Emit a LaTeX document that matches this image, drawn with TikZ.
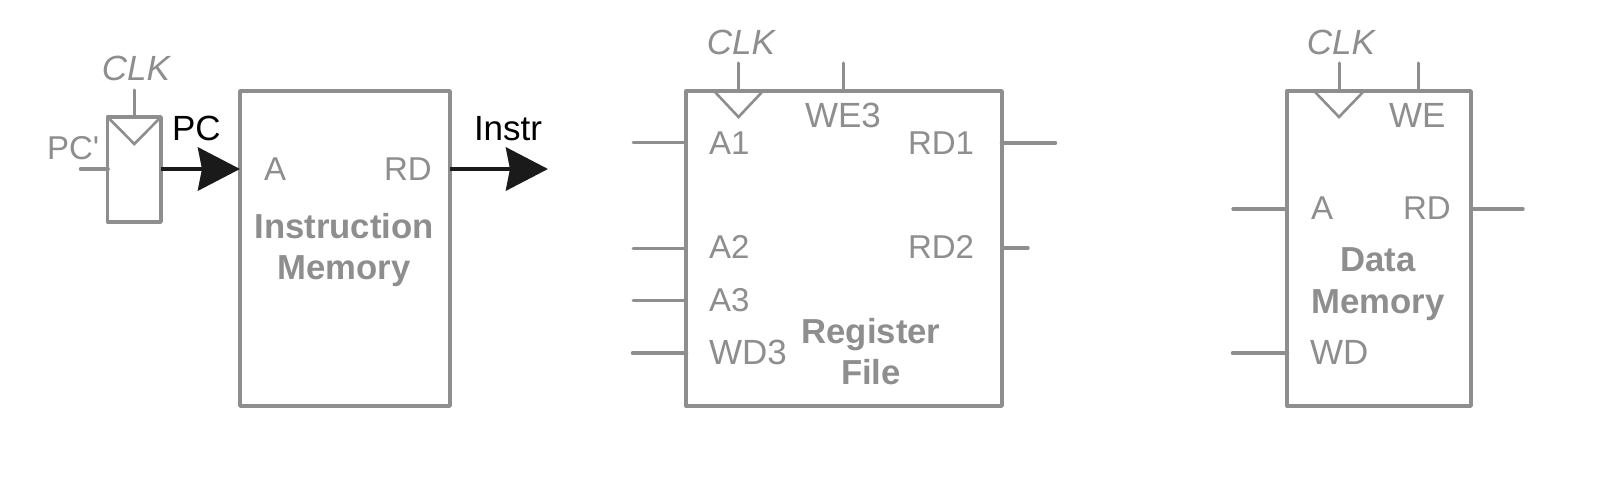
\documentclass[tikz,border=0pt]{standalone}
\usepackage{fontspec}
\setmainfont[Ligatures=TeXOff]{Liberation Sans}
\usetikzlibrary{arrows.meta}
\definecolor{ggray}{HTML}{8E8E8E}
\definecolor{ink}{HTML}{1A1A1A}
\tikzset{
  block/.style={draw=ggray,line width=3.4pt,line join=round,rectangle,inner sep=0pt,outer sep=0pt,fill=white},
  thinwire/.style={draw=ggray,line width=3pt,line cap=round},
  midwire/.style={draw=ggray,line width=3.4pt,line cap=round},
  thickwire/.style={draw=ggray,line width=4.6pt,line cap=round},
  bus/.style={draw=ink,line width=4.8pt,-{Stealth[length=42pt,width=43pt,inset=4pt]}},
  clocktri/.style={draw=ggray,line width=2.6pt,line join=miter},
  lab/.style={text=ggray,inner sep=0pt,outer sep=0pt,font=\fontsize{33}{40}\selectfont},
  labw/.style={lab,anchor=base west},
  widelab/.style={labw,font=\fontsize{35}{40}\selectfont},
  clklab/.style={lab,anchor=base,font=\fontsize{35}{40}\selectfont\itshape},
  title/.style={lab,anchor=base,align=center,font=\fontsize{34.7}{41.5}\selectfont\bfseries},
  busl/.style={labw,text=black,font=\fontsize{35}{40}\selectfont},
}
\begin{document}
\begin{tikzpicture}[x=1pt,y=-1pt]
\useasboundingbox (0,0) rectangle (1622,484);
% blocks
\node[block,minimum width=210pt,minimum height=315pt] (im) at (345,248.5) {};
\node[block,minimum width=316pt,minimum height=315pt] (rf) at (844,248.5) {};
\node[block,minimum width=184pt,minimum height=315pt] (dm) at (1379,248.5) {};
\node[block,minimum width=53.4pt,minimum height=105pt] (ff) at (134.3,169.5) {};
% free ends
\coordinate (ffclk) at (134.3,90);
\coordinate (ffd) at (81,169);
\coordinate (pcy) at (0,169);
\coordinate (instrend) at (548,169);
\coordinate (rfclk) at (738.5,63);
\coordinate (rfwe) at (843.5,63);
\coordinate (rfa1) at (633,143);
\coordinate (rfa2) at (633,248);
\coordinate (rfa3) at (633,300);
\coordinate (rfwd) at (633,353);
\coordinate (rfrd1) at (1055,143);
\coordinate (rfrd2) at (1028,248);
\coordinate (dmclk) at (1339,63);
\coordinate (dmwe) at (1418,63);
\coordinate (dma) at (1233,209);
\coordinate (dmwd) at (1233,353);
\coordinate (dmrd) at (1523,209);
% clock triangles
\draw[clocktri] (ff.north west) -- (134.3,144) -- (ff.north east);
\draw[clocktri] (714,91) -- (738.5,117) -- (763,91);
\draw[clocktri] (1314,91) -- (1339,117) -- (1364,91);
% wires
\draw[thinwire] (ffclk) -- (ffclk |- ff.north);
\draw[thickwire] (ffd) -- (ffd -| ff.west);
\draw[bus] (ff.east |- pcy) -- (im.west |- pcy);
\draw[bus] (im.east |- instrend) -- (instrend);
\draw[thinwire] (rfclk) -- (rfclk |- rf.north);
\draw[thinwire] (rfwe) -- (rfwe |- rf.north);
\draw[thinwire] (rfa1) -- (rfa1 -| rf.west);
\draw[thinwire] (rfa2) -- (rfa2 -| rf.west);
\draw[thinwire] (rfa3) -- (rfa3 -| rf.west);
\draw[thickwire] (rfwd) -- (rfwd -| rf.west);
\draw[thickwire] (rf.east |- rfrd1) -- (rfrd1);
\draw[midwire] (rf.east |- rfrd2) -- (rfrd2);
\draw[thinwire] (dmclk) -- (dmclk |- dm.north);
\draw[thinwire] (dmwe) -- (dmwe |- dm.north);
\draw[midwire] (dma) -- (dma -| dm.west);
\draw[thickwire] (dmwd) -- (dmwd -| dm.west);
\draw[midwire] (dm.east |- dmrd) -- (dmrd);
% labels
\node[clklab] (l1) at (136,81) {CLK};
\node[labw] (l2) at (47,160) {PC'};
\node[busl] (l3) at (172,141) {PC};
\node[busl] (l4) at (474,141) {Instr};
\node[labw] (l5) at (264,180.5) {A};
\node[labw] (l6) at (384,180.5) {RD};
\node[title] (l7) at (344,279.5) {Instruction\\Memory};
\node[clklab] (l8) at (741,55) {CLK};
\node[widelab] (l9) at (805,128) {WE3};
\node[labw] (l10) at (709,154) {A1};
\node[labw] (l11) at (908,154) {RD1};
\node[labw] (l12) at (709,258.5) {A2};
\node[labw] (l13) at (908,258.5) {RD2};
\node[labw] (l14) at (709,311.5) {A3};
\node[widelab] (l15) at (709,364) {WD3};
\node[title] (l16) at (871,384.5) {Register\\File};
\node[clklab] (l17) at (1341,55) {CLK};
\node[widelab] (l18) at (1389,128) {WE};
\node[labw] (l19) at (1311,219.5) {A};
\node[labw] (l20) at (1403,219.5) {RD};
\node[title] (l21) at (1378,313) {Data\\Memory};
\node[widelab] (l22) at (1310,364) {WD};
\end{tikzpicture}
\end{document}
